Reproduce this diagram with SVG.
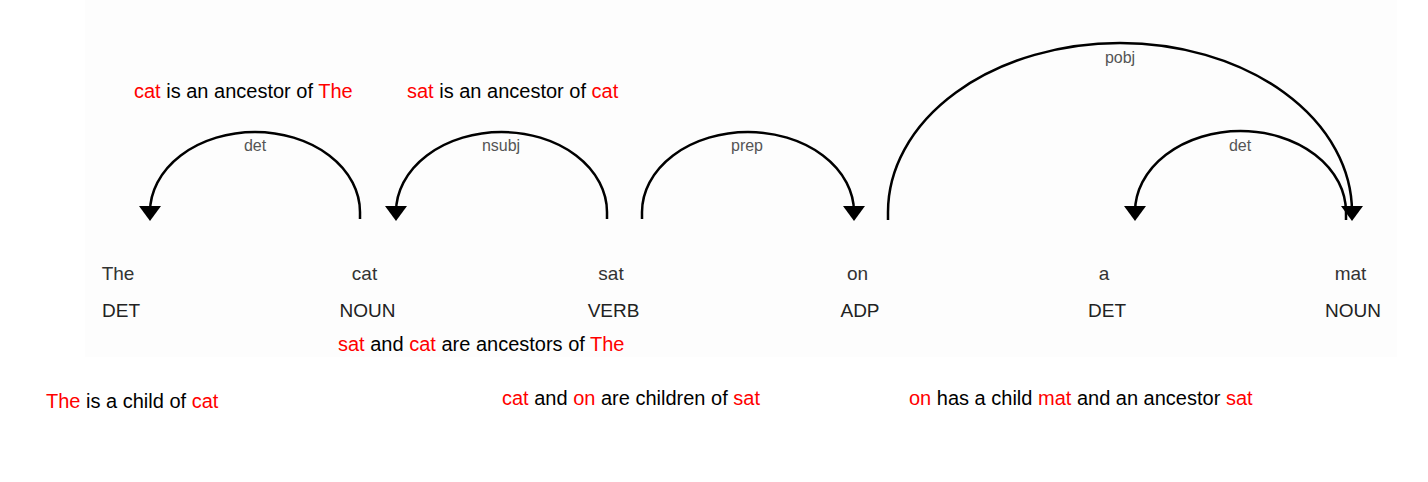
<svg xmlns="http://www.w3.org/2000/svg" width="1428" height="482" viewBox="0 0 1428 482">
<style>
.word{font-family:"Liberation Sans",Arial,sans-serif;font-size:19px;fill:#333;text-anchor:middle}
.tag{font-family:"Liberation Sans",Arial,sans-serif;font-size:19px;fill:#222;text-anchor:middle}
.arc{fill:none;stroke:#000;stroke-width:2.5}
.lbl{font-family:"Liberation Sans",Arial,sans-serif;font-size:16px;fill:#555;text-anchor:middle}
.note{font-family:"Liberation Sans",Arial,sans-serif;font-size:20px;fill:#000}
.r{fill:#ff0000}
</style>
<defs>
<marker id="ah" markerUnits="userSpaceOnUse" markerWidth="30" markerHeight="30" viewBox="-5 -15 30 30" refX="6" refY="0" orient="auto">
<path d="M0,-11 L15,0 L0,11 z" fill="#000"/>
</marker>
</defs>
<rect x="85" y="0" width="1312" height="357" fill="#fdfdfd"/>
<g id="connectors">
<path class="arc" d="M360,219 V212 A105,80 0 0 0 150,212" marker-end="url(#ah)"/>
<text class="lbl" x="255" y="151">det</text>
<path class="arc" d="M607,219 V212 A105.5,80 0 0 0 396,212" marker-end="url(#ah)"/>
<text class="lbl" x="501" y="151">nsubj</text>
<path class="arc" d="M642,219 V212 A106,80 0 0 1 854,212" marker-end="url(#ah)"/>
<text class="lbl" x="747" y="151">prep</text>
<path class="arc" d="M888,220 V212 A232,169 0 0 1 1352,212" marker-end="url(#ah)"/>
<text class="lbl" x="1120" y="63">pobj</text>
<path class="arc" d="M1346,220 V212 A105.5,81 0 0 0 1135,212" marker-end="url(#ah)"/>
<text class="lbl" x="1240" y="151">det</text>
</g>
<g id="node-The"><text class="word" x="118" y="280">The</text><text class="tag" x="121" y="317">DET</text></g>
<g id="node-cat"><text class="word" x="364.5" y="280">cat</text><text class="tag" x="367.5" y="317">NOUN</text></g>
<g id="node-sat"><text class="word" x="611" y="280">sat</text><text class="tag" x="613.5" y="317">VERB</text></g>
<g id="node-on"><text class="word" x="857.5" y="280">on</text><text class="tag" x="860" y="317">ADP</text></g>
<g id="node-a"><text class="word" x="1104" y="280">a</text><text class="tag" x="1107" y="317">DET</text></g>
<g id="node-mat"><text class="word" x="1350.5" y="280">mat</text><text class="tag" x="1353" y="317">NOUN</text></g>
<g id="notes">
<text class="note" x="134" y="98"><tspan class="r">cat</tspan> is an ancestor of <tspan class="r">The</tspan></text>
<text class="note" x="407" y="98"><tspan class="r">sat</tspan> is an ancestor of <tspan class="r">cat</tspan></text>
<text class="note" x="338" y="351"><tspan class="r">sat</tspan> and <tspan class="r">cat</tspan> are ancestors of <tspan class="r">The</tspan></text>
<text class="note" x="46" y="408"><tspan class="r">The</tspan> is a child of <tspan class="r">cat</tspan></text>
<text class="note" x="502" y="405"><tspan class="r">cat</tspan> and <tspan class="r">on</tspan> are children of <tspan class="r">sat</tspan></text>
<text class="note" x="909" y="405"><tspan class="r">on</tspan> has a child <tspan class="r">mat</tspan> and an ancestor <tspan class="r">sat</tspan></text>
</g>
</svg>
